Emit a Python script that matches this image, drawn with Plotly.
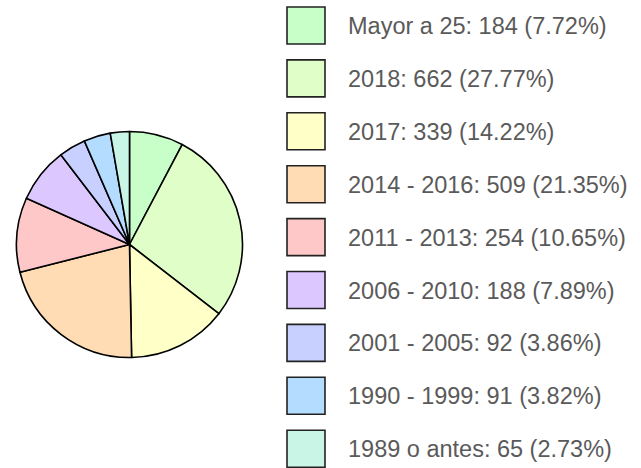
import plotly.graph_objects as go

labels = ["Mayor a 25", "2018", "2017", "2014 - 2016", "2011 - 2013",
          "2006 - 2010", "2001 - 2005", "1990 - 1999", "1989 o antes"]
values = [184, 662, 339, 509, 254, 188, 92, 91, 65]
colors = ["#c8ffc8", "#e0ffc8", "#ffffc8", "#ffdcb4", "#ffc8c8",
          "#dcc8ff", "#c8d0ff", "#b4dcff", "#c8f5e6"]

W, H = 641, 468
total = sum(values)

fig = go.Figure()
cx, cy, r = 129.5, 244.5, 113
fig.add_trace(go.Pie(
    labels=labels, values=values, sort=False, direction="clockwise", rotation=0,
    marker=dict(colors=colors, line=dict(color="#000000", width=1.6)),
    textinfo="none", hoverinfo="label+value+percent", showlegend=False,
    domain=dict(x=[(cx - r) / W, (cx + r) / W], y=[(H - cy - r) / H, (H - cy + r) / H]),
))

shapes = []
annotations = []
box_x0, box_x1 = 287, 325
top0, step, bh = 7, 52.9, 37
for i, (lab, val, col) in enumerate(zip(labels, values, colors)):
    y0 = top0 + i * step
    y1 = y0 + bh
    shapes.append(dict(type="rect", xref="paper", yref="paper",
                       x0=box_x0 / W, x1=box_x1 / W, y0=1 - y1 / H, y1=1 - y0 / H,
                       fillcolor=col, line=dict(color="#222222", width=1.6)))
    pct = val / total * 100
    annotations.append(dict(xref="paper", yref="paper", x=346 / W, y=1 - (y0 + bh / 2 + 0.5) / H,
                            xanchor="left", yanchor="middle", showarrow=False,
                            text=f"{lab}: {val} ({pct:.2f}%)",
                            font=dict(family="Liberation Sans, Arial, sans-serif", size=23.5, color="#5a5a5a")))

fig.update_layout(width=W, height=H, margin=dict(l=0, r=0, t=0, b=0),
                  paper_bgcolor="white", plot_bgcolor="white",
                  shapes=shapes, annotations=annotations, showlegend=False)
fig.write_html("out.html")
